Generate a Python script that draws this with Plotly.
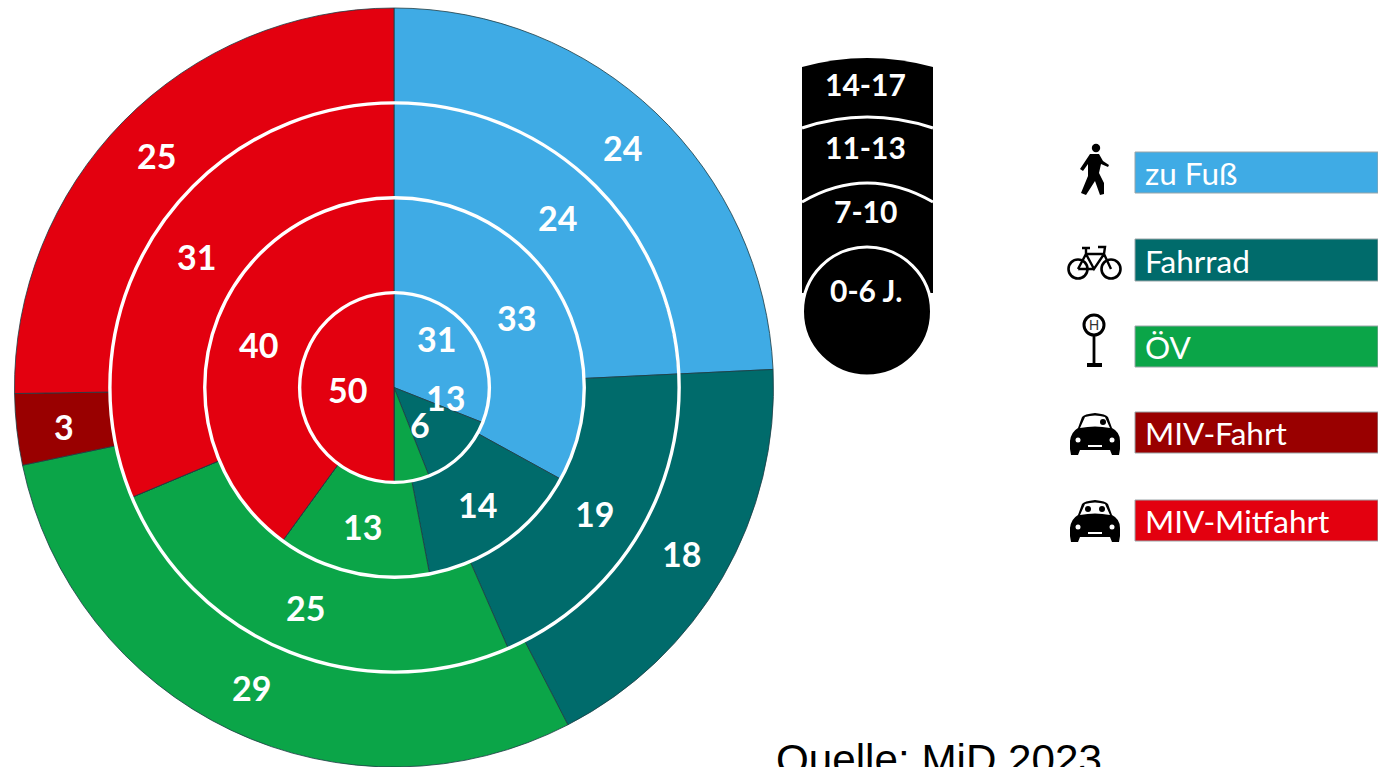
import plotly.graph_objects as go

modes = ["zu Fuß", "Fahrrad", "ÖV", "MIV-Fahrt", "MIV-Mitfahrt"]
colors = ["#3FABE5", "#006B6B", "#0BA548", "#990000", "#E3000F"]
age_labels = ["14-17", "11-13", "7-10", "0-6 J."]

vals_0_6 = [31, 13, 6, 0, 50]
vals_7_10 = [33, 14, 13, 0, 40]
vals_11_13 = [24, 19, 25, 0, 31]
vals_14_17 = [24, 18, 29, 3, 25]
rings = [vals_0_6, vals_7_10, vals_11_13, vals_14_17]

W, H = 1378, 767
CX, CY, STEP = 394, 387.5, 94.875

# label anchor points (pixels), ring by ring, skipping empty slices
label_pos = [
    [(436, 338), (445, 397), (420, 424), (347, 389)],
    [(516, 317), (477, 504), (362, 526), (258, 344)],
    [(557, 217), (594, 513), (305, 607), (196, 256)],
    [(622, 147), (681, 553), (251, 687), (64, 426), (156, 155)],
]

fig = go.Figure()
fig.add_trace(go.Scatter(x=[None], y=[None], showlegend=False, hoverinfo="skip"))

for i, vals in enumerate(rings):
    r_out = STEP * (i + 1)
    r_in = STEP * i
    fig.add_trace(go.Pie(
        values=vals, labels=modes, sort=False, direction="clockwise", rotation=0,
        hole=r_in / r_out, textinfo="none", showlegend=False,
        marker=dict(colors=colors, line=dict(color="#1d3c44", width=0.8)),
        domain=dict(x=[(CX - r_out) / W, (CX + r_out) / W],
                    y=[1 - (CY + r_out) / H, 1 - (CY - r_out) / H]),
    ))

shapes = []
annotations = []


def circle(cx, cy, r, fill="rgba(0,0,0,0)", line="white", lw=3):
    shapes.append(dict(type="circle", x0=cx - r, x1=cx + r, y0=cy - r, y1=cy + r,
                       fillcolor=fill, line=dict(color=line, width=lw), layer="above"))


def path(d, fill="black", line="rgba(0,0,0,0)", lw=0):
    shapes.append(dict(type="path", path=d, fillcolor=fill,
                       line=dict(color=line, width=lw), layer="above"))


def text(x, y, s, size, color="white", family="Lato", bold=False, xanchor="center"):
    annotations.append(dict(
        x=x, y=y, xref="x", yref="y", text=f"<b>{s}</b>" if bold else s, showarrow=False,
        xanchor=xanchor, yanchor="middle", borderpad=0,
        font=dict(size=size, color=color, family=family)))


# white ring separators
for i in range(1, 4):
    circle(CX + 0.5, CY, STEP * i, lw=3.4)

# value labels
for vals, pos in zip(rings, label_pos):
    shown = [v for v in vals if v > 0]
    for v, (x, y) in zip(shown, pos):
        text(x, y, str(v), 34, bold=True)

# age key
path("M802,67 Q867,49 933,67 L933,293 L802,293 Z")
path("M802,128 Q867,106 933,128", fill="rgba(0,0,0,0)", line="white", lw=3)
path("M802,202 Q867,164 933,202", fill="rgba(0,0,0,0)", line="white", lw=3)
circle(867, 311.5, 64.5, fill="black", line="white", lw=3)
for lab, y in zip(age_labels, [84, 147, 211, 290]):
    text(865.5, y, lab, 30, bold=True)

# mode legend bars
bars = [(152, 193), (239, 281), (326, 367), (412, 453), (500, 541)]
for (y0, y1), c, m in zip(bars, colors, modes):
    shapes.append(dict(type="rect", x0=1135, x1=1378, y0=y0, y1=y1, fillcolor=c,
                       line=dict(color="#9aa5a8", width=1), layer="above"))
    text(1143.5, (y0 + y1) / 2 + 0.5, m, 31.5, xanchor="left")

# walker icon
circle(1096, 148, 4.2, fill="black", line="black", lw=0)
path("M1090,154 L1099,154 L1103,161 L1109,165 L1108,167 L1101,164 L1099,173 L1104,183 L1104,194 "
     "L1100,195 L1095,181 L1086,195 L1081,193 L1088,176 L1088,164 L1083,171 L1080,169 Z")

# bicycle icon
circle(1078, 269, 9.5, line="black", lw=2.6)
circle(1111, 269, 9.5, line="black", lw=2.6)
path("M1078,269 L1086,254 L1104,254 L1111,269 M1086,254 L1094,269 L1104,254 M1094,269 L1078,269 "
     "M1082,248 L1090,248 M1086,248 L1086,254 M1098,247 L1105,247 L1104,254",
     fill="rgba(0,0,0,0)", line="black", lw=2.4)

# stop icon
circle(1094, 325, 10, line="black", lw=3)
text(1094, 325, "H", 14, color="#333333", family="Liberation Sans")
path("M1094,335 L1094,365", fill="rgba(0,0,0,0)", line="black", lw=2.8)
path("M1087,363 L1102,363 L1102,367 L1087,367 Z")


# car icons
def car(y, two):
    path(f"M1070,{y+28} Q1071,{y+19} 1078,{y+15} L1082,{y+4} Q1084,{y+1} 1095,{y} Q1106,{y+1} 1108,{y+4} L1112,{y+15} "
         f"Q1120,{y+19} 1120,{y+28} L1120,{y+36} L1119,{y+42} L1112,{y+42} L1110,{y+37} L1080,{y+37} "
         f"L1078,{y+42} L1071,{y+42} L1070,{y+36} Z")
    path(f"M1080,{y+15} L1085,{y+4} Q1095,{y+1} 1105,{y+4} L1110,{y+15} Q1095,{y+12} 1080,{y+15} Z", fill="white")
    if two:
        circle(1088, y + 9, 3, fill="black", line="black", lw=0)
        circle(1102, y + 9, 3, fill="black", line="black", lw=0)
    else:
        circle(1103, y + 9, 3, fill="black", line="black", lw=0)
    circle(1078, y + 27, 2.5, fill="white", line="white", lw=0)
    circle(1112, y + 27, 2.5, fill="white", line="white", lw=0)
    path(f"M1088,{y+32} L1102,{y+32} L1102,{y+34} L1088,{y+34} Z", fill="white")


car(413, False)
car(500, True)

# source
text(775, 759, "Quelle: MiD 2023", 42.2, color="black", family="Liberation Sans", xanchor="left")

fig.update_layout(
    width=W, height=H, margin=dict(l=0, r=0, t=0, b=0),
    paper_bgcolor="white", plot_bgcolor="white", showlegend=False,
    xaxis=dict(range=[0, W], visible=False, fixedrange=True, domain=[0, 1]),
    yaxis=dict(range=[H, 0], visible=False, fixedrange=True, domain=[0, 1]),
    shapes=shapes, annotations=annotations,
)
fig.write_html("out.html", config={"displayModeBar": False},
               post_script="document.body.style.margin='0';")
